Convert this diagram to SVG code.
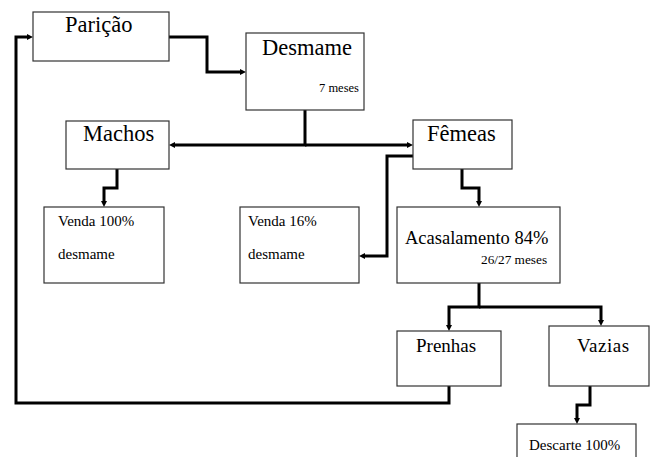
<svg xmlns="http://www.w3.org/2000/svg" width="659" height="457" viewBox="0 0 659 457">
<style>
.box{fill:#fff;stroke:#333;stroke-width:1.2}
.t{font-family:"Liberation Serif","Times New Roman",serif;fill:#000}
.big{font-size:22.5px}
.mid{font-size:19px}
.sm{font-size:15px}
.con{fill:none;stroke:#000;stroke-width:3;stroke-linejoin:miter}
</style>
<defs>
<marker id="ah" markerUnits="userSpaceOnUse" markerWidth="7" markerHeight="7" refX="1" refY="3" orient="auto">
<path d="M0,0 L6,3 L0,6 z" fill="#000"/>
</marker>
</defs>
<rect width="659" height="457" fill="#fff"/>
<g id="connectors">
<path class="con" d="M169,37 H207 V72 H241" marker-end="url(#ah)"/>
<path class="con" d="M449,386 V403 H16 V37 H28" marker-end="url(#ah)"/>
<path class="con" d="M305,110 V145 H174" marker-end="url(#ah)"/>
<path class="con" d="M305,145 H408" marker-end="url(#ah)"/>
<path class="con" d="M117,169 V188 H104 V202" marker-end="url(#ah)"/>
<path class="con" d="M413,156 H387 V256 H364" marker-end="url(#ah)"/>
<path class="con" d="M462,169 V188 H479 V202" marker-end="url(#ah)"/>
<path class="con" d="M479,283 V307 H449 V326" marker-end="url(#ah)"/>
<path class="con" d="M479,307 H601 V321" marker-end="url(#ah)"/>
<path class="con" d="M590,386 V405 H577 V419" marker-end="url(#ah)"/>
</g>
<g id="paricao">
<rect class="box" x="33" y="12" width="136" height="49"/>
<text class="t big" x="65" y="32">Parição</text>
</g>
<g id="desmame">
<rect class="box" x="246" y="33" width="118" height="77"/>
<text class="t big" x="262" y="55">Desmame</text>
<text class="t" font-size="12.5" x="319" y="92">7 meses</text>
</g>
<g id="machos">
<rect class="box" x="66" y="121" width="103" height="48"/>
<text class="t big" x="83" y="141">Machos</text>
</g>
<g id="femeas">
<rect class="box" x="413" y="120" width="99" height="49"/>
<text class="t big" x="427" y="141">Fêmeas</text>
</g>
<g id="venda100">
<rect class="box" x="44" y="207" width="120" height="76"/>
<text class="t sm" x="58" y="226">Venda 100%</text>
<text class="t sm" x="58" y="259">desmame</text>
</g>
<g id="venda16">
<rect class="box" x="240" y="207" width="119" height="76"/>
<text class="t sm" x="248" y="226">Venda 16%</text>
<text class="t sm" x="248" y="259">desmame</text>
</g>
<g id="acasalamento">
<rect class="box" x="397" y="207" width="163" height="76"/>
<text class="t" font-size="18.5" x="405" y="244">Acasalamento 84%</text>
<text class="t" font-size="13.3" x="481" y="264">26/27 meses</text>
</g>
<g id="prenhas">
<rect class="box" x="397" y="331" width="104" height="55"/>
<text class="t mid" x="416" y="352">Prenhas</text>
</g>
<g id="vazias">
<rect class="box" x="549" y="326" width="100" height="60"/>
<text class="t mid" x="577" y="352" letter-spacing="0.5">Vazias</text>
</g>
<g id="descarte">
<rect class="box" x="517" y="424" width="119" height="50"/>
<text class="t sm" x="529" y="450">Descarte 100%</text>
</g>
</svg>
